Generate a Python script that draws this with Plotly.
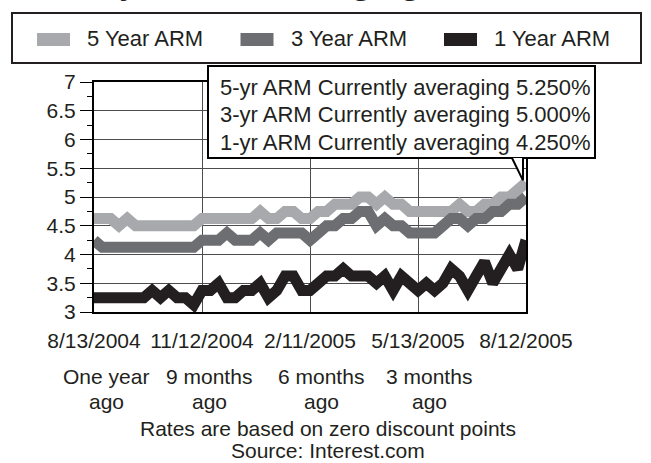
import pandas as pd
import plotly.graph_objects as go

# Weekly survey dates (Fridays), one year of history
week_dates = pd.date_range("2004-08-13", "2005-08-12", freq="7D")

tick_dates = ["2004-08-13", "2004-11-12", "2005-02-11", "2005-05-13", "2005-08-12"]
tick_labels = ["8/13/2004", "11/12/2004", "2/11/2005", "5/13/2005", "8/12/2005"]

series_names = ["5 Year ARM", "3 Year ARM", "1 Year ARM"]
series_short = ["5-yr ARM", "3-yr ARM", "1-yr ARM"]
series_colors = ["#a7a9ac", "#6d6e71", "#231f20"]

five_year = [4.625, 4.625, 4.625, 4.5, 4.625, 4.5, 4.5, 4.5, 4.5, 4.5,
             4.5, 4.5, 4.5, 4.625, 4.625, 4.625, 4.625, 4.625, 4.625, 4.625,
             4.75, 4.625, 4.625, 4.75, 4.75, 4.625, 4.625, 4.75, 4.75, 4.875,
             4.875, 4.875, 5.0, 5.0, 4.875, 5.0, 4.875, 4.875, 4.75, 4.75,
             4.75, 4.75, 4.75, 4.75, 4.875, 4.75, 4.75, 4.875, 4.875, 5.0,
             5.0, 5.125, 5.25]
three_year = [4.25, 4.125, 4.125, 4.125, 4.125, 4.125, 4.125, 4.125, 4.125, 4.125,
              4.125, 4.125, 4.125, 4.25, 4.25, 4.25, 4.375, 4.25, 4.25, 4.25,
              4.375, 4.25, 4.375, 4.375, 4.375, 4.375, 4.25, 4.375, 4.5, 4.5,
              4.625, 4.625, 4.75, 4.75, 4.5, 4.625, 4.5, 4.5, 4.375, 4.375,
              4.375, 4.375, 4.5, 4.625, 4.625, 4.5, 4.625, 4.625, 4.75, 4.75,
              4.875, 4.875, 5.0]
one_year = [3.25, 3.25, 3.25, 3.25, 3.25, 3.25, 3.25, 3.375, 3.25, 3.375,
            3.25, 3.25, 3.125, 3.375, 3.375, 3.5, 3.25, 3.25, 3.375, 3.375,
            3.5, 3.25, 3.375, 3.625, 3.625, 3.375, 3.375, 3.5, 3.625, 3.625,
            3.75, 3.625, 3.625, 3.625, 3.5, 3.625, 3.375, 3.625, 3.5, 3.375,
            3.5, 3.375, 3.5, 3.75, 3.625, 3.375, 3.625, 3.875, 3.5, 3.75,
            4.0, 3.75, 4.25]
series_values = [five_year, three_year, one_year]

period_labels = ["One year", "9 months", "6 months", "3 months"]
period_suffix = "ago"
footnotes = ["Rates are based on zero discount points", "Source: Interest.com"]
title_text = "Weekly ARM Mortgage Rates"

FONT = "Liberation Sans, Arial, Helvetica, sans-serif"
INK = "#231f20"

W, H = 651, 463
L, R, T, B = 94, 526, 82, 312  # plot area in pixels


def px(x):
    return (x - L) / (R - L)


def py(y):
    return (B - y) / (B - T)


fig = go.Figure()
for name, vals, color in zip(series_names, series_values, series_colors):
    fig.add_trace(go.Scatter(
        x=week_dates, y=vals, mode="lines", name=name,
        line=dict(color=color, width=11), showlegend=False,
        hoverinfo="x+y+name"))

shapes = []
annotations = []

# legend frame with swatches
shapes.append(dict(type="rect", xref="paper", yref="paper",
                   x0=px(12), x1=px(641), y0=py(13), y1=py(63),
                   line=dict(color=INK, width=2), fillcolor="white", layer="below"))
for i, (name, color) in enumerate(zip(series_names, series_colors)):
    sx = 37 + i * 203.5
    shapes.append(dict(type="rect", xref="paper", yref="paper",
                       x0=px(sx), x1=px(sx + 33), y0=py(46), y1=py(33),
                       line=dict(width=0), fillcolor=color))
    annotations.append(dict(text=name, xref="paper", yref="paper",
                            x=px(sx + 48), y=py(38), xanchor="left", yanchor="middle",
                            showarrow=False, font=dict(size=22, color=INK, family=FONT)))

# callout with current averages, tail pointing at the latest 5-year value
box_l, box_r, box_t, box_b = 208, 595, 66, 158
shapes.append(dict(type="rect", xref="paper", yref="paper",
                   x0=px(box_l), x1=px(box_r), y0=py(box_t), y1=py(box_b),
                   line=dict(color="black", width=2), fillcolor="white"))
tip_x, tip_y = 1.0, (five_year[-1] - 3) / 4
tail_a, tail_b = px(512), px(523)
shapes.append(dict(type="path", xref="paper", yref="paper",
                   path=f"M{tail_a},{py(box_b)} L{tip_x - 0.007},{tip_y + 0.01} L{tail_b},{py(box_b)} Z",
                   line=dict(width=0), fillcolor="white"))
shapes.append(dict(type="path", xref="paper", yref="paper",
                   path=f"M{tail_a},{py(box_b)} L{tip_x - 0.007},{tip_y + 0.01} L{tail_b},{py(box_b)}",
                   line=dict(color="black", width=2)))
for i, (short, vals) in enumerate(zip(series_short, series_values)):
    annotations.append(dict(text=f"{short} Currently averaging {vals[-1]:.3f}%",
                            xref="paper", yref="paper", x=px(218), y=py(88 + i * 27),
                            xanchor="left", yanchor="middle", showarrow=False,
                            font=dict(size=22, color=INK, family=FONT)))

# period captions under the date axis
for lbl, cx in zip(period_labels, [106, 209, 321, 429]):
    annotations.append(dict(text=lbl, xref="paper", yref="paper", x=px(cx), y=py(376),
                            xanchor="center", yanchor="middle", showarrow=False,
                            font=dict(size=21, color=INK, family=FONT)))
    annotations.append(dict(text=period_suffix, xref="paper", yref="paper", x=px(cx), y=py(401),
                            xanchor="center", yanchor="middle", showarrow=False,
                            font=dict(size=21, color=INK, family=FONT)))
for txt, cy in zip(footnotes, [428, 451]):
    annotations.append(dict(text=txt, xref="paper", yref="paper", x=px(328), y=py(cy),
                            xanchor="center", yanchor="middle", showarrow=False,
                            font=dict(size=21, color=INK, family=FONT)))

# headline, running off the top edge
annotations.append(dict(text=title_text, xref="paper", yref="paper", x=px(-4), y=py(3),
                        xanchor="left", yanchor="bottom", showarrow=False,
                        font=dict(size=44, color=INK, family=FONT)))

fig.update_layout(
    width=W, height=H,
    margin=dict(l=L, r=W - R, t=T, b=H - B, pad=0),
    paper_bgcolor="white", plot_bgcolor="white",
    font=dict(family=FONT, size=21, color=INK),
    shapes=shapes, annotations=annotations,
    showlegend=False,
)
fig.update_xaxes(
    type="date", range=[week_dates[0], week_dates[-1]],
    tickvals=tick_dates, ticktext=tick_labels,
    showgrid=True, gridcolor="#4d4d4f", gridwidth=1,
    showline=True, linecolor="black", linewidth=2, mirror=True,
    ticks="", ticklabelstandoff=9, tickfont=dict(size=21),
)
fig.update_yaxes(
    range=[3, 7], tick0=3, dtick=0.5,
    showgrid=True, gridcolor="#4d4d4f", gridwidth=1,
    showline=True, linecolor="black", linewidth=2, mirror=True,
    ticks="outside", ticklen=12, tickwidth=1, tickcolor="black",
    minor=dict(ticks="outside", ticklen=5, dtick=0.25, tickcolor="black", showgrid=False),
    tickfont=dict(size=21), zeroline=False,
)

fig.write_html("out.html")
